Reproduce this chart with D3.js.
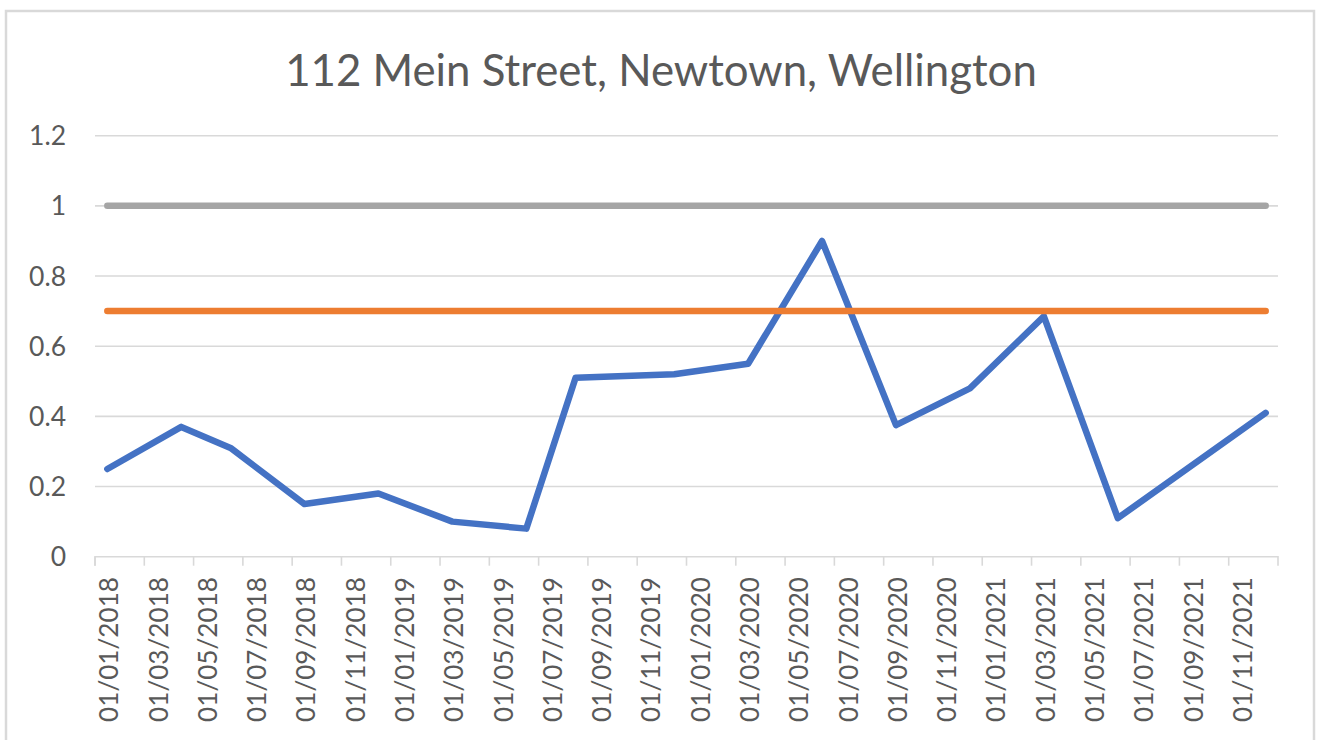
<!DOCTYPE html>
<html><head><meta charset="utf-8">
<script src="https://cdn.jsdelivr.net/npm/d3@7"></script>
<style>
body{margin:0;background:#fff;overflow:hidden;}
text{font-family:Lato,"Open Sans","Noto Sans",sans-serif;fill:#595959;}
</style>
</head><body>
<svg id="chart" width="1322" height="740"></svg>
<script>
// ---- data ----
const chartTitle = "112 Mein Street, Newtown, Wellington";
const readingDates = ["2018-01","2018-04","2018-06","2018-09","2018-12","2019-03","2019-06","2019-08",
  "2019-12","2020-03","2020-06","2020-09","2020-12","2021-03","2021-06","2021-12"];
const readingValues = [0.25,0.37,0.31,0.15,0.18,0.10,0.08,0.51,0.52,0.55,0.90,0.375,0.48,0.685,0.11,0.41];
const limitDates = ["2018-01","2021-12"];
const upperLimitValues = [1.0,1.0];
const targetValues = [0.7,0.7];
const xTickLabels = ["01/01/2018","01/03/2018","01/05/2018","01/07/2018","01/09/2018","01/11/2018",
  "01/01/2019","01/03/2019","01/05/2019","01/07/2019","01/09/2019","01/11/2019",
  "01/01/2020","01/03/2020","01/05/2020","01/07/2020","01/09/2020","01/11/2020",
  "01/01/2021","01/03/2021","01/05/2021","01/07/2021","01/09/2021","01/11/2021"];
const yTicks = [0,0.2,0.4,0.6,0.8,1,1.2];
const yTickLabels = ["0","0.2","0.4","0.6","0.8","1","1.2"];

// month slots (Excel date axis, base unit = months)
const fmtKey = d3.timeFormat("%Y-%m");
const monthSlots = d3.timeMonth.range(new Date(2018,0,1), new Date(2022,0,1)).map(fmtKey);
const keyFromLabel = l => l.slice(6,10) + "-" + l.slice(3,5);

const svg = d3.select("#chart");
const plot = {left:95, right:1278, top:135.7, bottom:556.7};

const x = d3.scaleBand().domain(monthSlots).range([plot.left, plot.right]).padding(0);
const xc = k => x(k) + x.bandwidth()/2;
const y = d3.scaleLinear().domain([0,1.2]).range([plot.bottom, plot.top]);

// chart border
svg.append("rect").attr("x",6).attr("y",11).attr("width",1308).attr("height",760)
  .attr("fill","#fff").attr("stroke","#d9d9d9").attr("stroke-width",2.5);

// title
const t = svg.append("text").attr("x",661).attr("y",86).attr("text-anchor","middle")
  .style("font-size","36px").text(chartTitle);
{ const w = t.node().getComputedTextLength(); t.style("font-size",(36*752/w)+"px"); }

// gridlines
svg.append("g").selectAll("line").data(yTicks.filter(v=>v>0)).join("line")
  .attr("x1",plot.left).attr("x2",plot.right)
  .attr("y1",d=>y(d)).attr("y2",d=>y(d))
  .attr("stroke","#d9d9d9").attr("stroke-width",1.6);

// y labels
const yl = svg.append("g").selectAll("text").data(yTicks).join("text")
  .attr("x",66).attr("y",d=>y(d)).attr("dy","0.36em").attr("text-anchor","end")
  .style("font-size","24px").text((d,i)=>yTickLabels[i]);
{ const n = yl.filter((d,i)=>i===4).node(); const w = n.getComputedTextLength(); yl.style("font-size",(24*37/w)+"px"); }

// x axis line and ticks
const xaxis = d3.axisBottom(x)
  .tickValues(monthSlots.filter((d,i)=>i%2===0))
  .tickSize(9).tickFormat("");
const gx = svg.append("g").attr("transform",`translate(0,${plot.bottom})`).call(xaxis);
gx.select(".domain").attr("stroke","#d9d9d9").attr("stroke-width",1.6).attr("d",`M${plot.left},9V0H${plot.right}V9`);
gx.selectAll(".tick line").attr("stroke","#d9d9d9").attr("stroke-width",1.6)
  .attr("transform",`translate(${-x.bandwidth()/2},0)`);
gx.selectAll(".tick text").remove();

// x labels
const xl = svg.append("g").selectAll("text").data(xTickLabels).join("text")
  .attr("transform",d=>`translate(${xc(keyFromLabel(d))+1.5},577) rotate(-90)`)
  .attr("dy","0.36em").attr("text-anchor","end")
  .style("font-size","24px").text(d=>d);
{ const w = xl.node().getComputedTextLength(); xl.style("font-size",(24*145/w)+"px"); }

// series
const line = d3.line().x(d=>xc(d[0])).y(d=>y(d[1]));
function drawSeries(dates, vals, color){
  svg.append("path").datum(dates.map((d,i)=>[d,vals[i]]))
    .attr("d",line).attr("fill","none").attr("stroke",color)
    .attr("stroke-width",6.5).attr("stroke-linecap","round").attr("stroke-linejoin","round");
}
drawSeries(readingDates, readingValues, "#4472C4");
drawSeries(limitDates, targetValues, "#ED7D31");
drawSeries(limitDates, upperLimitValues, "#A5A5A5");
</script>
</body></html>
